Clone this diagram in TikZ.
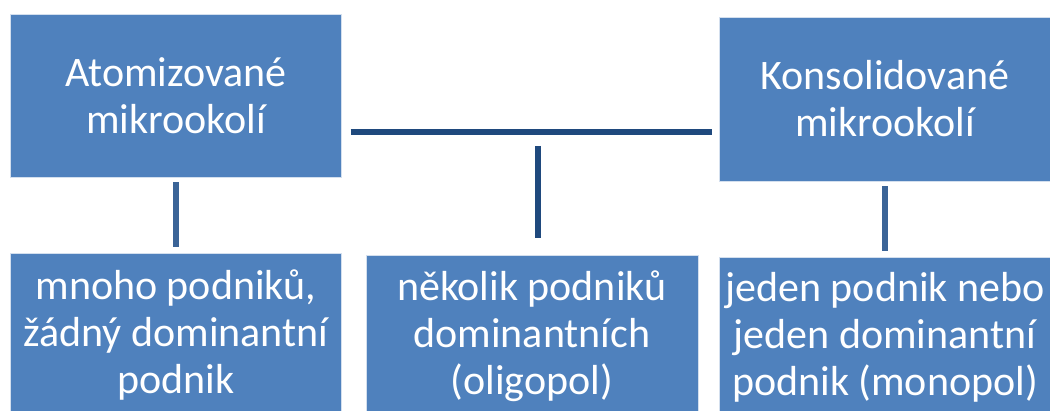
\documentclass[tikz,border=0pt]{standalone}
\usepackage{fontspec}
\setmainfont{Carlito}
\definecolor{boxblue}{HTML}{4F81BD}
\definecolor{darkline}{HTML}{1F497D}
\definecolor{midline}{HTML}{3B6497}
\begin{document}
\begin{tikzpicture}[x=1pt,y=1pt,
  blk/.style={draw=white!75!boxblue, line width=0.8pt, fill=boxblue, text=white, inner sep=0pt,
    align=center, font=\fontsize{42}{47}\selectfont},
  conn/.style={line width=6pt, midline},
  darkconn/.style={line width=6pt, darkline}]
\useasboundingbox (0,0) rectangle (1050,411);
\node[blk, minimum width=330.5, minimum height=163] (tl) at (176,315.5) {Atomizované\\mikrookolí};
\node[blk, minimum width=332, minimum height=164] (tr) at (885,312) {Konsolidované\\mikrookolí};
\node[blk, minimum width=330.5, minimum height=164] (bl) at (176,76) {mnoho podniků,\\žádný dominantní\\podnik};
\node[blk, minimum width=332, minimum height=162] (bm) at (532,75) {několik podniků\\dominantních\\(oligopol)};
\node[blk, minimum width=332, minimum height=160] (br) at (885,74) {jeden podnik nebo\\jeden dominantní\\podnik (monopol)};
\coordinate (hy) at (0,279);
\coordinate (mtop) at (538,265);
\draw[darkconn, shorten <=9pt, shorten >=7pt] (tl.east |- hy) -- (tr.west |- hy);
\draw[darkconn, shorten >=17pt] (mtop) -- (mtop |- bm.north);
\draw[conn, shorten <=5pt, shorten >=6pt] (tl.south) -- (bl.north);
\draw[conn, shorten <=5pt, shorten >=6pt] (tr.south) -- (br.north);
\end{tikzpicture}
\end{document}
